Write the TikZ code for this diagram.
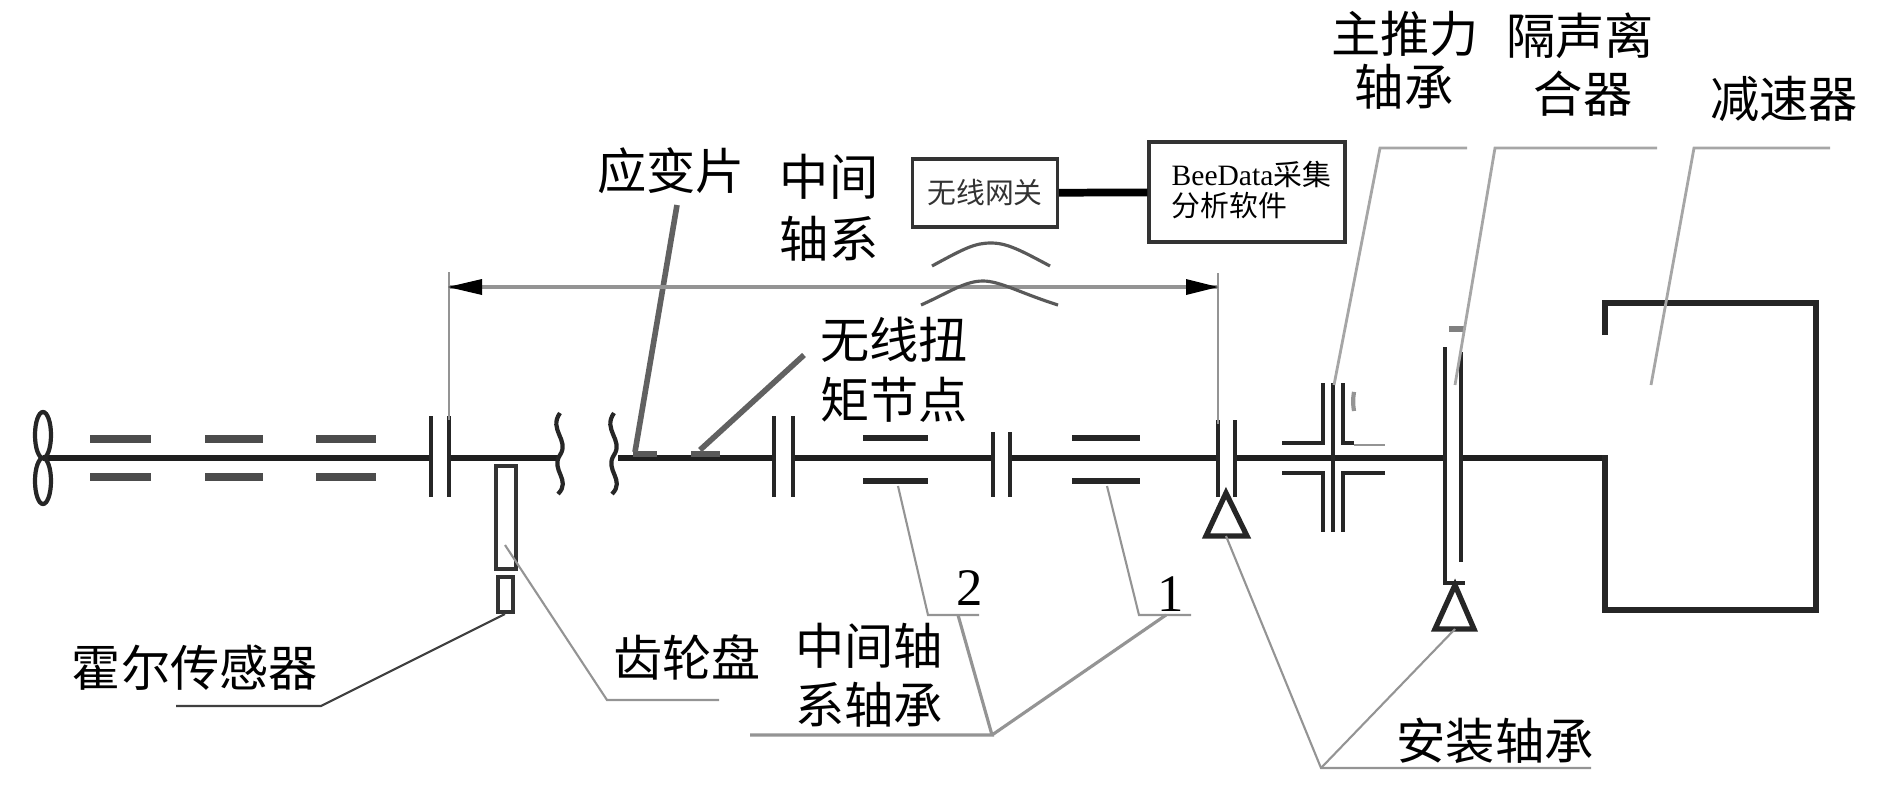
\documentclass[tikz,border=0pt]{standalone}
\usepackage{fontspec}
\setmainfont{Liberation Serif}
\newfontfamily\cjk{Noto Sans CJK SC}
\tikzset{
  shaft/.style={line width=1.8pt,black!88},
  part/.style={line width=1.2pt,black!85},
  leader/.style={line width=0.6pt,black!42},
  lab/.style={font=\cjk\fontsize{14}{16}\selectfont,inner sep=0pt},
  numlab/.style={font=\fontsize{15}{17}\selectfont,inner sep=0pt},
  boxlab/.style={font=\cjk\fontsize{8.2}{11}\selectfont,inner sep=0pt},
  boxed/.style={draw,line width=0.9pt,black!80,inner sep=0pt}
}
\begin{document}
\begin{tikzpicture}[x=0.01cm,y=-0.01cm]
\useasboundingbox (0,0) rectangle (1890,784);
% shaft
\foreach \a/\b in {43/431,449/560,618/774,793/993,1010/1218,1235/1445,1461/1605}{
  \draw[shaft] (\a,458)--(\b,458);}
\draw[part] (43,435) ellipse (8 and 23);
\draw[part] (43,481) ellipse (8 and 23);
% bearings
\foreach \a/\b in {90/151,205/263,316/376}{
  \draw[line width=2pt,black!70] (\a,439)--(\b,439);
  \draw[line width=2pt,black!70] (\a,477)--(\b,477);}
\foreach \a/\b in {863/928,1072/1140}{
  \draw[line width=1.8pt,black!85] (\a,438)--(\b,438);
  \draw[line width=1.8pt,black!85] (\a,481)--(\b,481);}
% couplings
\foreach \a/\b/\t in {431/449/416,774/793/416,993/1010/432,1218/1235/420}{
  \draw[part] (\a,\t)--(\a,497);
  \draw[part] (\b,\t)--(\b,497);}
% breaks
\foreach \a in {560,614}{
  \draw[part] (\a,413) .. controls (\a-12,430) and (\a+10,440) .. (\a,455)
    .. controls (\a-10,470) and (\a+12,480) .. (\a-2,494);}
% gauge and node
\fill[black!65] (633,451) rectangle (657,457);
\fill[black!65] (691,451) rectangle (720,457);
\coordinate (gauge) at (635,452);
\coordinate (gaugeend) at (677,205);
\coordinate (torque) at (700,450);
\coordinate (torqueend) at (804,355);
\draw[line width=1.6pt,black!62] (gauge)--(gaugeend);
\draw[line width=1.6pt,black!62] (torque)--(torqueend);
% gear disc and sensor
\draw[line width=0.9pt,black!80] (496,466) rectangle (516,569);
\draw[line width=0.9pt,black!80] (498,577) rectangle (513,612);
% thrust bearing
\draw[part] (1323,383)--(1323,443)--(1282,443);
\draw[part] (1343,383)--(1343,443)--(1354,443);
\draw[part] (1282,473)--(1323,473)--(1323,532);
\draw[part] (1385,473)--(1343,473)--(1343,532);
\draw[line width=1pt,black!85] (1333,383)--(1333,532);
\draw[leader] (1354,445)--(1385,445);
\draw[leader,line width=1.2pt] (1354,411) arc (170:190:55);
% clutch
\draw[part,line width=1.4pt] (1445,347)--(1445,583)--(1465,583);
\draw[part] (1461,352)--(1461,562);
\draw[line width=1.6pt,black!50] (1449,329)--(1465,329);
% mounting bearings
\draw[part,line width=1.5pt,fill=white] (1226,493)--(1247,536)--(1206,536)--cycle;
\draw[part,line width=1.5pt,fill=white] (1455,585)--(1474,629)--(1435,629)--cycle;
\coordinate (tria) at (1226,536);
\coordinate (trib) at (1455,629);
% reducer
\draw[line width=1.6pt,black!85] (1605,335)--(1605,303)--(1816,303)--(1816,610)--(1605,610)--(1605,455);
% dimension
\coordinate (dimL) at (448,287);
\coordinate (dimR) at (1218,287);
\draw[leader,line width=0.9pt] (dimL)--(dimR);
\draw[leader] (449,272)--(449,420);
\draw[leader] (1218,273)--(1218,424);
\fill[black] (448,287)--(482,279)--(482,295)--cycle;
\fill[black] (1218,287)--(1186,279)--(1186,295)--cycle;
% gateway
\node[boxed,minimum width=145*0.01cm,minimum height=68*0.01cm,boxlab] (gateway) at (985,193) {无线网关};
\node[boxed,minimum width=196*0.01cm,minimum height=100*0.01cm] (software) at (1247,192) {};
\draw[line width=2.2pt,black] (gateway)--(software);
\node[boxlab,anchor=west] (softa) at (1171,174) {\fontsize{8.4}{11}\selectfont\rmfamily BeeData\cjk\fontsize{8.2}{11}\selectfont 采集};
\node[boxlab,anchor=west] (softb) at (1171,206) {分析软件};
% signal
\draw[line width=0.9pt,black!65] (932,266) .. controls (965,248) and (975,243) .. (991,243) .. controls (1007,243) and (1020,250) .. (1050,266);
\draw[line width=0.9pt,black!65] (921,305) .. controls (950,292) and (965,281) .. (983,281) .. controls (1000,281) and (1020,293) .. (1058,305);
% leaders
\draw[leader] (505,545)--(607,700)--(719,700);
\draw[leader,black!75] (505,614)--(321,706)--(176,706);
\draw[leader] (898,486)--(928,615)--(979,615);
\draw[leader] (1107,486)--(1139,615)--(1191,615);
\draw[leader,line width=0.9pt] (750,735)--(992,735)--(958,615);
\draw[leader,line width=0.9pt] (992,735)--(1166,615);
\draw[leader] (tria)--(1321,768)--(1591,768);
\draw[leader] (trib)--(1321,768);
\draw[leader,line width=0.8pt,black!35] (1334,385)--(1380,148)--(1467,148);
\draw[leader,line width=0.8pt,black!35] (1455,385)--(1495,148)--(1657,148);
\draw[leader,line width=0.8pt,black!35] (1651,385)--(1694,148)--(1830,148);
% labels
\node[lab] (thrusta) at (1405,34) {主推力};
\node[lab] (thrustb) at (1404,87) {轴承};
\node[lab] (clutcha) at (1580,36) {隔声离};
\node[lab] (clutchb) at (1583,94) {合器};
\node[lab] (reducer) at (1784,99) {减速器};
\node[lab] (gaugelab) at (671,171) {应变片};
\node[lab] (midshafta) at (829,177) {中间};
\node[lab] (midshaftb) at (829,239) {轴系};
\node[lab] (nodea) at (894,340) {无线扭};
\node[lab] (nodeb) at (894,400) {矩节点};
\node[lab] (hall) at (195,668) {霍尔传感器};
\node[lab] (disclab) at (687,657) {齿轮盘};
\node[lab] (bearinga) at (869,646) {中间轴};
\node[lab] (bearingb) at (869,705) {系轴承};
\node[lab] (mount) at (1495,741) {安装轴承};
\node[numlab] (two) at (970,588) {2};
\node[numlab] (one) at (1171,594) {1};
\end{tikzpicture}
\end{document}
